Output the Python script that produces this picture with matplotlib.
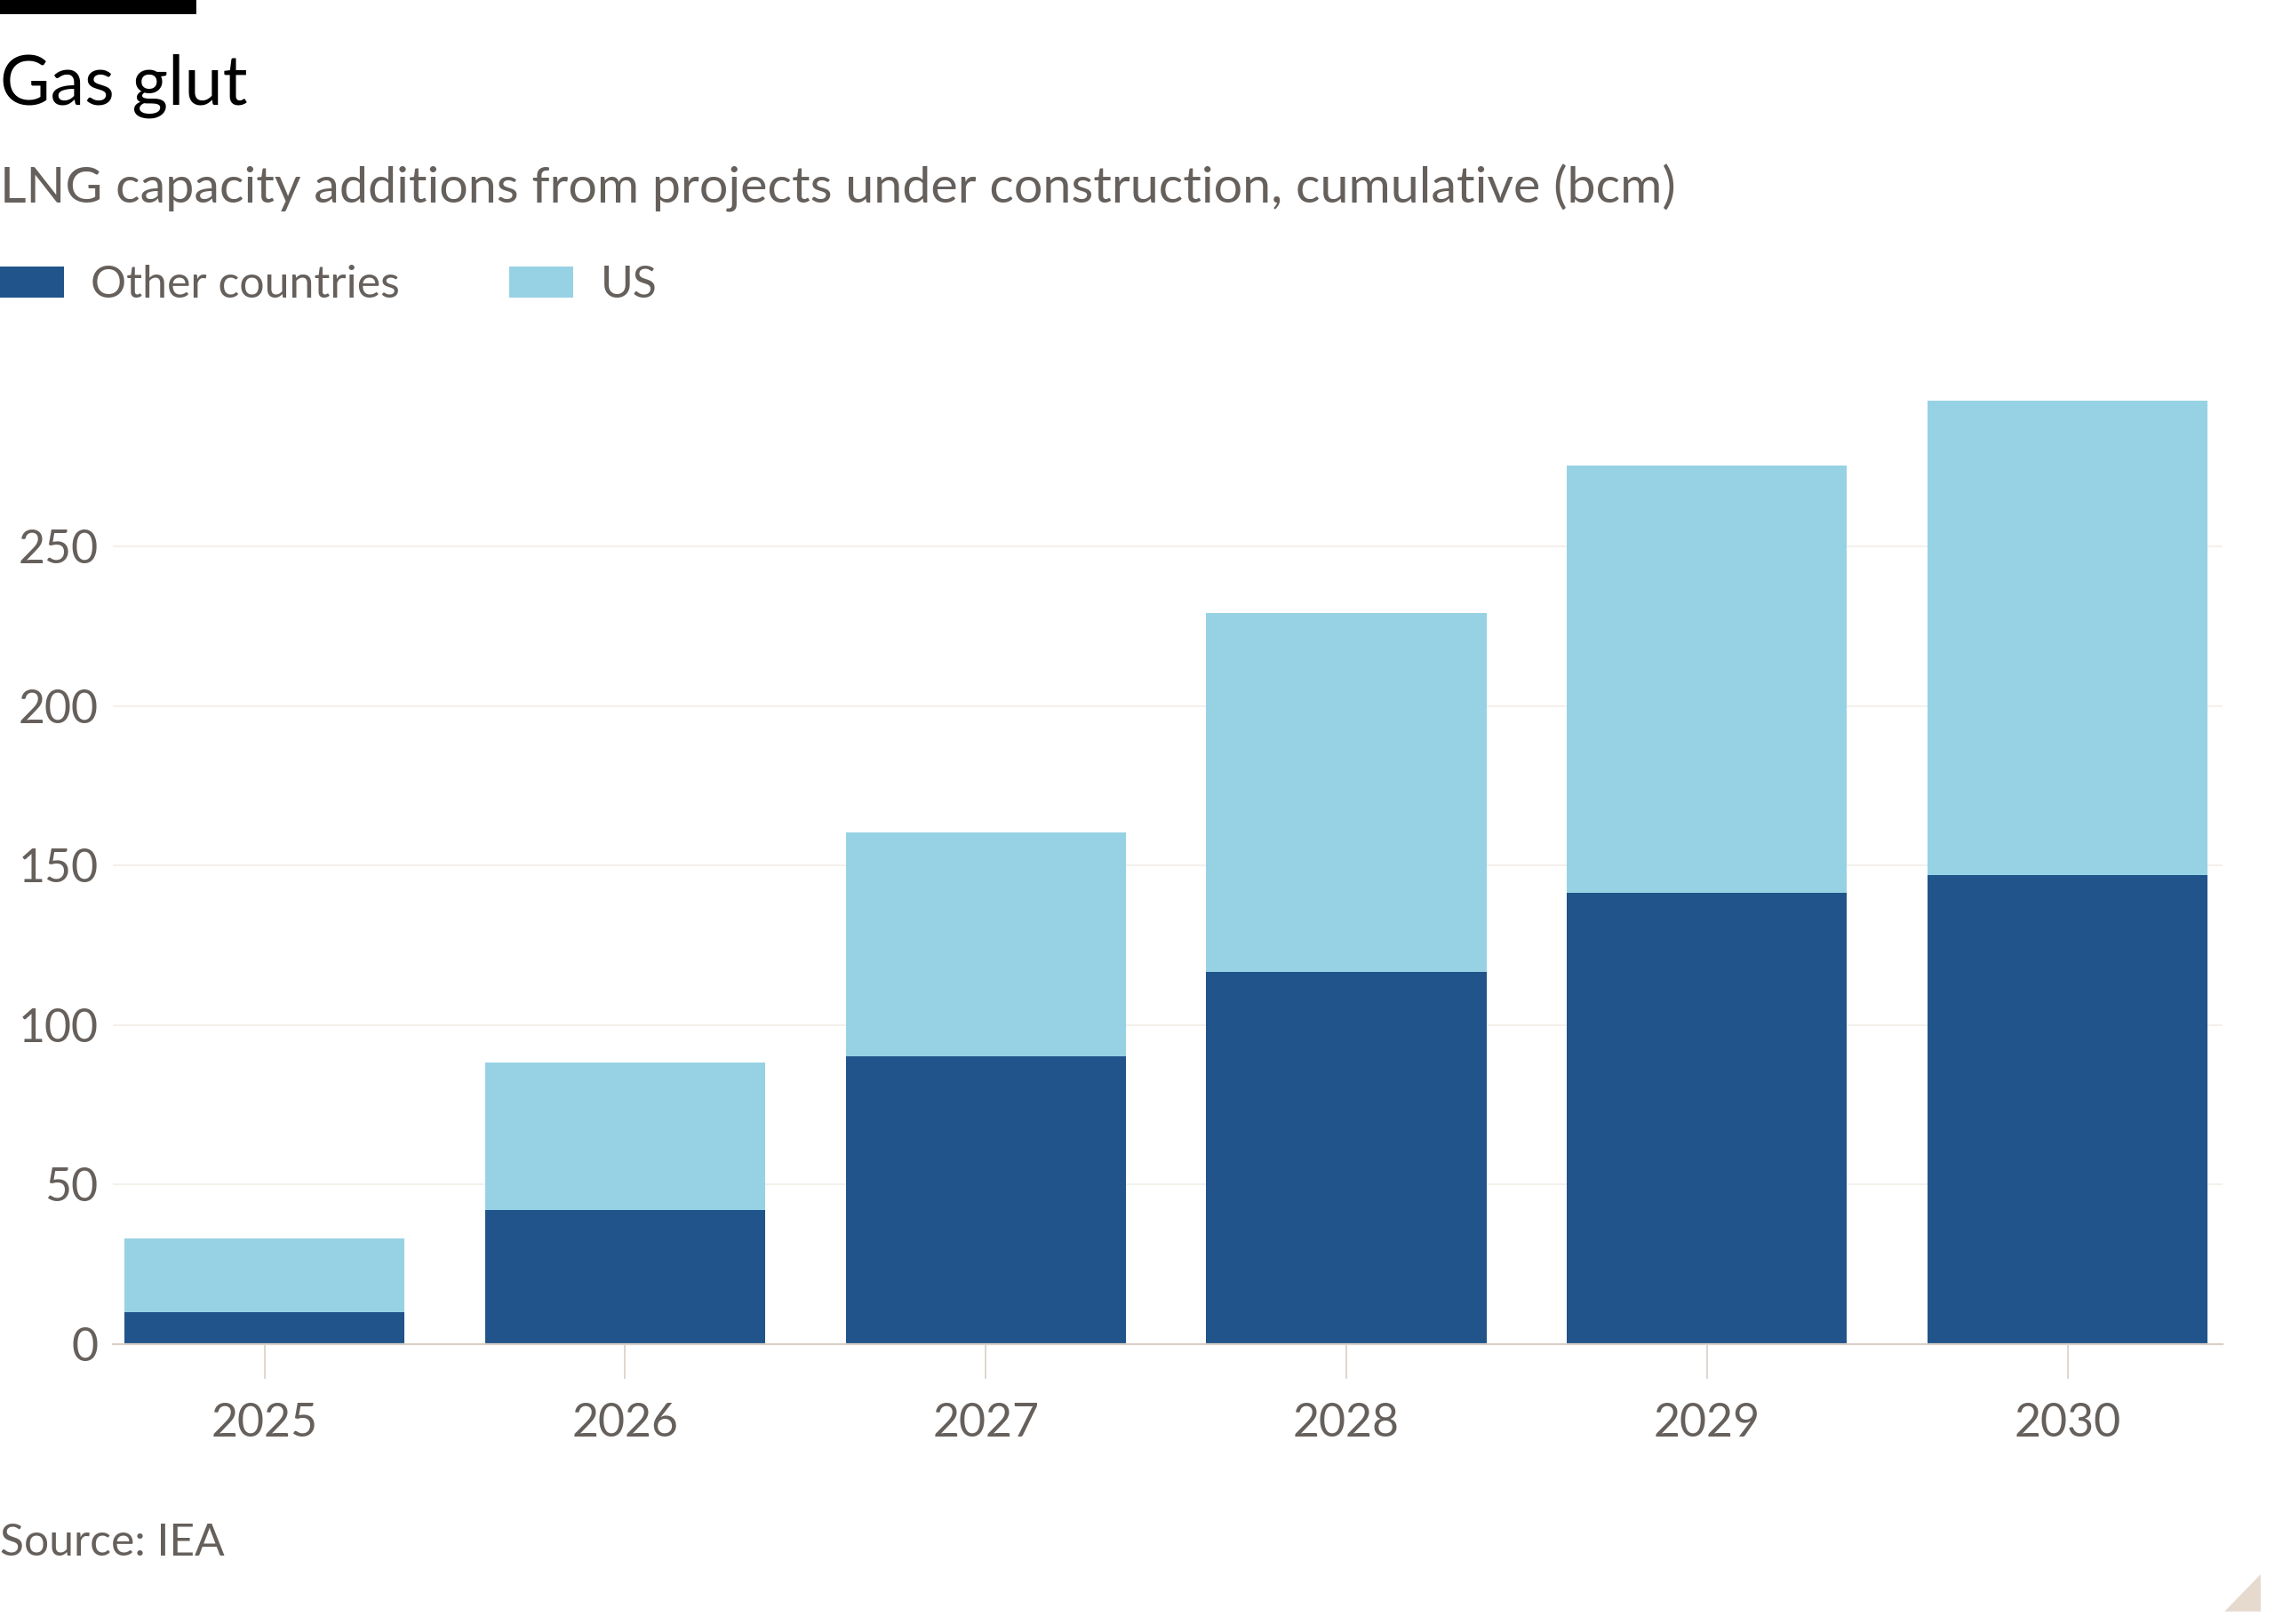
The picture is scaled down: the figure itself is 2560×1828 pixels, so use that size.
import matplotlib
matplotlib.use("Agg")
import matplotlib.pyplot as plt
from matplotlib.patches import Rectangle, Polygon

# Data (bcm, cumulative)
years = ["2025", "2026", "2027", "2028", "2029", "2030"]
other_countries = [10.0, 42.0, 90.2, 116.6, 141.4, 147.0]
us = [23.0, 46.3, 70.1, 112.5, 134.0, 148.8]

dark_blue = "#20548a"
light_blue = "#96d2e4"
text_grey = "#66605c"

plt.rcParams["font.family"] = ["Lato", "DejaVu Sans"]

fig = plt.figure(figsize=(12.8, 9.14), dpi=200)
ax = fig.add_axes([0.0497, 0.1725, 0.9273, 0.5890])

x = range(len(years))
b1 = ax.bar(x, other_countries, width=0.777, color=dark_blue, label="Other countries", zorder=2)
b2 = ax.bar(x, us, width=0.777, bottom=other_countries, color=light_blue, label="US", zorder=2)

ax.set_xlim(-0.42, 5.43)
ax.set_ylim(0, 300)
ax.set_yticks([0, 50, 100, 150, 200, 250])
ax.set_xticks(list(x))
ax.set_xticklabels(years)

for s in ["top", "right", "left"]:
    ax.spines[s].set_visible(False)
ax.spines["bottom"].set_color("#d9d0c8")
ax.spines["bottom"].set_linewidth(0.8)
ax.spines["bottom"].set_zorder(3)

ax.grid(axis="y", color="#f2ede8", linewidth=0.6, zorder=0)
ax.tick_params(axis="y", length=0, pad=6, labelsize=18.7, labelcolor=text_grey)
ax.tick_params(axis="x", length=14, width=0.6, color="#d9d0c8", pad=10, labelsize=18.7, labelcolor=text_grey)

# header
fig.add_artist(Rectangle((0, 0.9925), 0.0855, 0.0075, transform=fig.transFigure, color="black"))
fig.text(0.0, 0.9357, "Gas glut", fontsize=28, color="black", va="baseline", ha="left")
fig.text(0.0, 0.875, "LNG capacity additions from projects under construction, cumulative (bcm)",
         fontsize=20.7, color=text_grey, va="baseline", ha="left")

fig.legend(handles=[b1, b2], labels=["Other countries", "US"], loc="center left",
           bbox_to_anchor=(0.0, 0.8245), ncol=2, frameon=False, fontsize=18,
           handlelength=1.45, handleheight=0.7, handletextpad=0.6, columnspacing=2.45,
           borderpad=0, borderaxespad=0, labelcolor=text_grey)

fig.text(0.0, 0.042, "Source: IEA", fontsize=17.9, color=text_grey, va="baseline", ha="left")

# little corner mark
fig.add_artist(Polygon([(0.979, 0.009), (0.993, 0.009), (0.993, 0.029)], closed=True,
                       transform=fig.transFigure, color="#e6d9ce"))

fig.savefig("out.png", dpi=200, facecolor="white")
